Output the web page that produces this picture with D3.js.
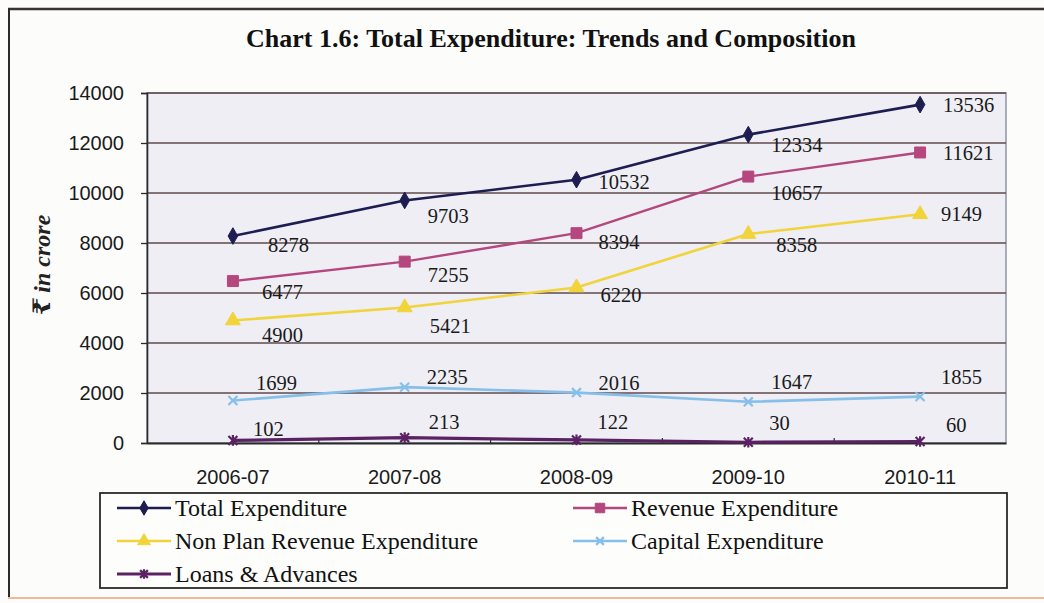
<!DOCTYPE html>
<html>
<head>
<meta charset="utf-8">
<script src="https://cdn.jsdelivr.net/npm/d3@7"></script>
<style>
  html, body { margin: 0; padding: 0; background: #fcfcfa; }
  svg { display: block; }
</style>
</head>
<body>
<svg id="chart" width="1044" height="603"></svg>
<script>
// Financial years on the category axis
const years = ["2006-07", "2007-08", "2008-09", "2009-10", "2010-11"];

// Expenditure figures, ₹ in crore
const totalExpenditure   = [8278, 9703, 10532, 12334, 13536];
const revenueExpenditure = [6477, 7255, 8394, 10657, 11621];
const nonPlanRevenueExp  = [4900, 5421, 6220, 8358, 9149];
const capitalExpenditure = [1699, 2235, 2016, 1647, 1855];
const loansAdvances      = [102, 213, 122, 30, 60];

// Value axis ticks
const yTicks = [0, 2000, 4000, 6000, 8000, 10000, 12000, 14000];

const seriesNames = [
  "Total Expenditure",
  "Revenue Expenditure",
  "Non Plan Revenue Expenditure",
  "Capital Expenditure",
  "Loans & Advances"
];

const svg = d3.select("#chart");
const W = 1044, H = 603;

// ---- frame ----
svg.append("rect").attr("x", 0).attr("y", 0).attr("width", W).attr("height", H).attr("fill", "#fcfcfa");
svg.append("line").attr("x1", 8).attr("x2", W).attr("y1", 9).attr("y2", 9)
  .attr("stroke", "#3b3333").attr("stroke-width", 2.5);
svg.append("line").attr("x1", 9).attr("x2", 9).attr("y1", 8).attr("y2", 598)
  .attr("stroke", "#2e2a2a").attr("stroke-width", 2);
svg.append("line").attr("x1", 8).attr("x2", W).attr("y1", 598).attr("y2", 598)
  .attr("stroke", "#f2b899").attr("stroke-width", 2);

// ---- title ----
svg.append("text")
  .attr("x", 551).attr("y", 47)
  .attr("text-anchor", "middle")
  .style("font-family", "'Liberation Serif', 'Times New Roman', serif")
  .style("font-weight", "bold")
  .style("font-size", "26px")
  .attr("fill", "#111")
  .text("Chart 1.6: Total Expenditure: Trends and Composition");

// ---- scales ----
const plot = { left: 147, right: 1006, top: 93, bottom: 443 };
const x = d3.scaleBand().domain(years).range([plot.left, plot.right]);
const cx = d => x(d) + x.bandwidth() / 2;
const y = d3.scaleLinear().domain([0, 14000]).range([plot.bottom, plot.top]);

// plot area background
svg.append("rect")
  .attr("x", plot.left).attr("y", plot.top)
  .attr("width", plot.right - plot.left).attr("height", plot.bottom - plot.top)
  .attr("fill", "#eeeef4")
  .attr("stroke", "#8e93a6").attr("stroke-width", 1.5);

// horizontal gridlines
svg.append("g").selectAll("line")
  .data(yTicks.filter(t => t > 0))
  .join("line")
  .attr("x1", plot.left).attr("x2", plot.right)
  .attr("y1", d => y(d)).attr("y2", d => y(d))
  .attr("stroke", "#5f4a4c").attr("stroke-width", 1.3);

// ---- y axis ----
const yAxis = svg.append("g")
  .attr("transform", `translate(${plot.left},0)`)
  .call(d3.axisLeft(y).tickValues(yTicks).tickFormat(d3.format("d")).tickSize(6).tickPadding(17));
yAxis.select(".domain").attr("stroke", "#2a2a2a").attr("stroke-width", 1.6);
yAxis.selectAll(".tick line").attr("stroke", "#2a2a2a").attr("stroke-width", 1.3);
yAxis.selectAll("text")
  .style("font-family", "'Liberation Sans', Arial, sans-serif")
  .style("font-size", "20px")
  .attr("fill", "#1a1a1a");

// ---- x axis ----
const xAxis = svg.append("g")
  .attr("transform", `translate(0,${plot.bottom})`)
  .call(d3.axisBottom(x).tickSize(0).tickPadding(27));
xAxis.select(".domain").attr("stroke", "#2a2a2a").attr("stroke-width", 1.8);
xAxis.selectAll("text")
  .style("font-family", "'Liberation Sans', Arial, sans-serif")
  .style("font-size", "20px")
  .attr("fill", "#1a1a1a");
// category boundary ticks
svg.append("g").selectAll("line")
  .data(years.slice(1))
  .join("line")
  .attr("x1", d => x(d)).attr("x2", d => x(d))
  .attr("y1", plot.bottom).attr("y2", plot.bottom - 5)
  .attr("stroke", "#2a2a2a").attr("stroke-width", 1.2);

// ---- y axis title ----
svg.append("text")
  .attr("transform", "translate(50,265) rotate(-90)")
  .attr("text-anchor", "middle")
  .style("font-family", "'Liberation Serif', 'DejaVu Serif', serif")
  .style("font-style", "italic")
  .style("font-weight", "bold")
  .style("font-size", "24px")
  .attr("fill", "#222")
  .text("₹ in crore");

// ---- marker shapes ----
const symX = {
  draw(ctx, size) {
    const r = Math.sqrt(size) / 2;
    ctx.moveTo(-r, -r); ctx.lineTo(r, r);
    ctx.moveTo(-r, r); ctx.lineTo(r, -r);
  }
};
const symStar = {
  draw(ctx, size) {
    const r = Math.sqrt(size) / 2;
    ctx.moveTo(-r, -r); ctx.lineTo(r, r);
    ctx.moveTo(-r, r); ctx.lineTo(r, -r);
    ctx.moveTo(0, -r * 1.2); ctx.lineTo(0, r * 1.2);
  }
};

const series = [
  { name: seriesNames[0], values: totalExpenditure,   color: "#1d1d52", width: 2.6, sym: d3.symbolDiamond,  size: 80,  filled: true },
  { name: seriesNames[1], values: revenueExpenditure, color: "#b4477d", width: 2.4, sym: d3.symbolSquare,   size: 120, filled: true },
  { name: seriesNames[2], values: nonPlanRevenueExp,  color: "#f1d33a", width: 2.6, sym: d3.symbolTriangle, size: 95,  filled: true },
  { name: seriesNames[3], values: capitalExpenditure, color: "#86bfe9", width: 2.6, sym: symX,              size: 80,  filled: false },
  { name: seriesNames[4], values: loansAdvances,      color: "#5a2262", width: 3.2, sym: symStar,           size: 80,  filled: false }
];

// data label placement relative to each point: [dx to label start, dy to label middle]
const labelOffsets = [
  [[35, 9], [23, 15], [22, 2], [23, 10], [23, 0]],
  [[29, 11], [23, 13], [22, 9], [23, 16], [23, 0]],
  [[29, 14], [25, 18], [24, 7], [28, 11], [21, 0]],
  [[23, -18], [22, -10], [22, -10], [23, -20], [21, -20]],
  [[20, -12], [24, -16], [21, -18], [21, -19], [26, -17]]
];

const line = d3.line().x(d => cx(d.year)).y(d => y(d.value));

function drawMarker(sel, s) {
  sel.attr("d", d3.symbol().type(s.sym).size(s.size)())
    .attr("fill", s.filled ? s.color : "none")
    .attr("stroke", s.color)
    .attr("stroke-width", s.filled ? 1 : 2.2);
}

// draw from bottom series upward so the top lines sit on top
series.slice().reverse().forEach(s => {
  const pts = years.map((yr, i) => ({ year: yr, value: s.values[i] }));
  const g = svg.append("g");
  g.append("path").datum(pts)
    .attr("d", line)
    .attr("fill", "none")
    .attr("stroke", s.color)
    .attr("stroke-width", s.width)
    .attr("stroke-linejoin", "round");
  g.selectAll("path.m").data(pts).join("path")
    .attr("class", "m")
    .attr("transform", d => `translate(${cx(d.year)},${y(d.value)})`)
    .call(drawMarker, s);
});

// data labels
series.forEach((s, si) => {
  svg.append("g").selectAll("text")
    .data(years.map((yr, i) => ({ year: yr, value: s.values[i], off: labelOffsets[si][i] })))
    .join("text")
    .attr("x", d => cx(d.year) + d.off[0])
    .attr("y", d => y(d.value) + d.off[1])
    .attr("dy", "0.35em")
    .style("font-family", "'Liberation Serif', 'Times New Roman', serif")
    .style("font-size", "20.5px")
    .attr("fill", "#1a1a1a")
    .text(d => d.value);
});

// ---- legend ----
const legend = svg.append("g");
legend.append("rect")
  .attr("x", 100).attr("y", 493).attr("width", 907).attr("height", 95)
  .attr("fill", "#fdfdfb").attr("stroke", "#2a2a2a").attr("stroke-width", 1.8);

const legendPos = [
  { x: 117, y: 508 }, { x: 573, y: 508 },
  { x: 117, y: 541 }, { x: 573, y: 541 },
  { x: 117, y: 574 }
];
series.forEach((s, i) => {
  const p = legendPos[i];
  const g = legend.append("g").attr("transform", `translate(${p.x},${p.y})`);
  g.append("line").attr("x1", 0).attr("x2", 54).attr("y1", 0).attr("y2", 0)
    .attr("stroke", s.color).attr("stroke-width", s.width);
  g.append("path").attr("transform", "translate(27,0)")
    .call(drawMarker, Object.assign({}, s, { size: s.size * 0.75 }));
  g.append("text")
    .attr("x", 58).attr("y", 0).attr("dy", "0.35em")
    .style("font-family", "'Liberation Serif', 'Times New Roman', serif")
    .style("font-size", "24px")
    .attr("fill", "#111")
    .text(s.name);
});
</script>
</body>
</html>
